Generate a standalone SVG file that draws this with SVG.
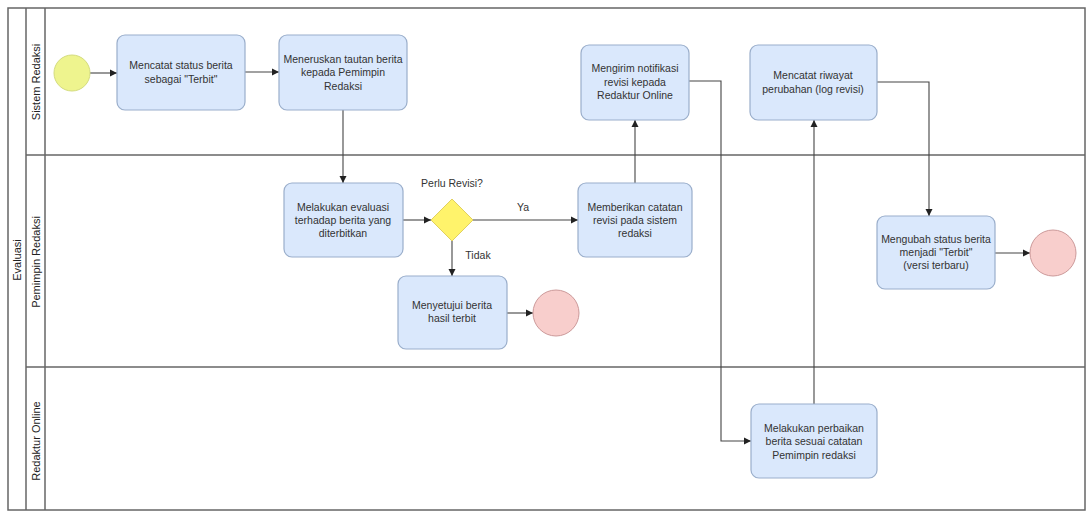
<svg xmlns="http://www.w3.org/2000/svg" width="1086" height="511" viewBox="0 0 1086 511">
<defs>
<marker id="arr" markerWidth="8" markerHeight="8" refX="7" refY="4" orient="auto" markerUnits="userSpaceOnUse">
<path d="M0,0.5 L7,4 L0,7.5 Z" fill="#222"/>
</marker>
<style>
.lane{fill:none;stroke:#666;stroke-width:1.5}
.task{fill:#dae8fc;stroke:#9aaecb;stroke-width:1.2}
.t{font-family:"Liberation Sans",Arial,sans-serif;font-size:10.5px;fill:#333;text-anchor:middle}
.lbl{font-family:"Liberation Sans",Arial,sans-serif;font-size:11px;fill:#222;text-anchor:middle}
.c{fill:none;stroke:#444;stroke-width:1.1;marker-end:url(#arr)}
.end{fill:#f8cecc;stroke:#c99;stroke-width:1}
</style>
</defs>
<rect width="1086" height="511" fill="#fff"/>
<g id="pool">
<rect class="lane" x="8" y="8" width="1077" height="502"/>
<line class="lane" x1="26" y1="8" x2="26" y2="510"/>
<line class="lane" x1="45" y1="8" x2="45" y2="510"/>
<line class="lane" x1="26" y1="155" x2="1085" y2="155"/>
<line class="lane" x1="26" y1="367" x2="1085" y2="367"/>
<text class="lbl" transform="translate(21,260) rotate(-90)">Evaluasi</text>
<text class="lbl" transform="translate(39.5,82) rotate(-90)">Sistem Redaksi</text>
<text class="lbl" transform="translate(39.5,262) rotate(-90)">Pemimpin Redaksi</text>
<text class="lbl" transform="translate(39.5,441) rotate(-90)">Redaktur Online</text>
</g>
<g id="connectors">
<line class="c" x1="90" y1="73" x2="117" y2="73"/>
<line class="c" x1="245" y1="72" x2="279" y2="72"/>
<line class="c" x1="343" y1="110" x2="343" y2="183"/>
<line class="c" x1="403" y1="220" x2="431" y2="220"/>
<line class="c" x1="473" y1="220" x2="578" y2="220"/>
<line class="c" x1="452" y1="241" x2="452" y2="276"/>
<line class="c" x1="507" y1="313" x2="533" y2="313"/>
<line class="c" x1="635" y1="183" x2="635" y2="120"/>
<polyline class="c" points="689,81 721,81 721,441 751,441"/>
<line class="c" x1="814" y1="404" x2="814" y2="120"/>
<polyline class="c" points="877,82 929,82 929,216"/>
<line class="c" x1="995" y1="253" x2="1030" y2="253"/>
<text class="t" x="523" y="211">Ya</text>
<text class="t" x="478" y="259">Tidak</text>
</g>
<g id="start"><circle cx="72" cy="73" r="18" fill="#eef48e" stroke="#d4dc80" stroke-width="1"/></g>
<g id="t1"><rect class="task" x="117" y="35" width="128" height="75" rx="8"/>
<text class="t" x="181" y="69">Mencatat status berita</text><text class="t" x="181" y="83">sebagai "Terbit"</text></g>
<g id="t2"><rect class="task" x="279" y="35" width="128" height="75" rx="8"/>
<text class="t" x="343" y="63">Meneruskan tautan berita</text><text class="t" x="343" y="76">kepada Pemimpin</text><text class="t" x="343" y="90">Redaksi</text></g>
<g id="t3"><rect class="task" x="581" y="45" width="108" height="75" rx="8"/>
<text class="t" x="635" y="72">Mengirim notifikasi</text><text class="t" x="635" y="86">revisi kepada</text><text class="t" x="635" y="99">Redaktur Online</text></g>
<g id="t4"><rect class="task" x="750" y="45" width="127" height="75" rx="8"/>
<text class="t" x="813" y="79">Mencatat riwayat</text><text class="t" x="813" y="93">perubahan (log revisi)</text></g>
<g id="t5"><rect class="task" x="284" y="183" width="119" height="74" rx="8"/>
<text class="t" x="343" y="211">Melakukan evaluasi</text><text class="t" x="343" y="224">terhadap berita yang</text><text class="t" x="343" y="237">diterbitkan</text></g>
<g id="gw"><polygon points="452,199 473,220 452,241 431,220" fill="#fff36b" stroke="#e0d060" stroke-width="1"/>
<text class="t" x="452" y="187">Perlu Revisi?</text></g>
<g id="t6"><rect class="task" x="578" y="183" width="114" height="74" rx="8"/>
<text class="t" x="635" y="211">Memberikan catatan</text><text class="t" x="635" y="224">revisi pada sistem</text><text class="t" x="635" y="237">redaksi</text></g>
<g id="t7"><rect class="task" x="398" y="276" width="109" height="73" rx="8"/>
<text class="t" x="452" y="309">Menyetujui berita</text><text class="t" x="452" y="322">hasil terbit</text></g>
<g id="end1"><circle class="end" cx="556" cy="313" r="23"/></g>
<g id="t8"><rect class="task" x="877" y="216" width="118" height="73" rx="8"/>
<text class="t" x="936" y="243">Mengubah status berita</text><text class="t" x="936" y="256">menjadi "Terbit"</text><text class="t" x="936" y="269">(versi terbaru)</text></g>
<g id="end2"><circle class="end" cx="1053" cy="253" r="23"/></g>
<g id="t9"><rect class="task" x="751" y="404" width="126" height="74" rx="8"/>
<text class="t" x="814" y="432">Melakukan perbaikan</text><text class="t" x="814" y="445">berita sesuai catatan</text><text class="t" x="814" y="459">Pemimpin redaksi</text></g>
</svg>
